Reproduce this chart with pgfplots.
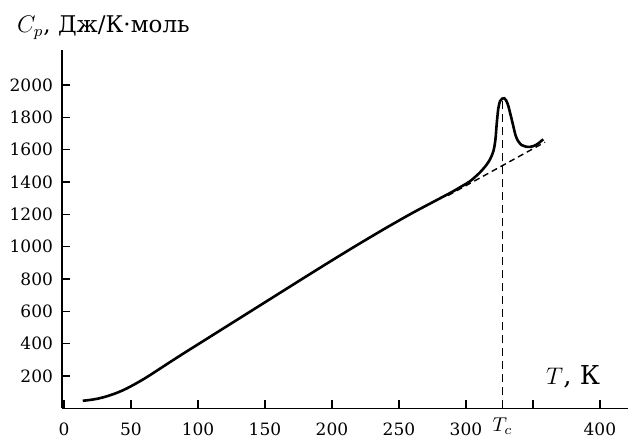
\documentclass[border=0pt]{standalone}
\usepackage{fontspec}
\setmainfont{DejaVu Serif}
\usepackage{pgfplots}
\pgfplotsset{compat=1.18}

\begin{document}
\begin{tikzpicture}
\begin{axis}[
    name=ax,
    scale only axis,
    width=283pt, height=179.2pt,
    xmin=-1.5, xmax=421, ymin=0, ymax=2216,
    axis lines=left,
    axis line style={-, line width=0.7pt},
    tick align=inside,
    xtick pos=left, ytick pos=left,
    major tick length=4pt,
    tick style={black, line width=0.7pt},
    xtick={0,50,...,400},
    xticklabels={0,50,100,150,200,250,300,,400},
    extra x ticks={327.4},
    extra x tick labels={\fontsize{10}{11}\selectfont$T_c$},
    extra x tick style={major tick length=0pt, xticklabel style={yshift=2.5pt}},
    ytick={200,400,...,2000},
    tick label style={font=\fontsize{8.5}{10}\selectfont},
    xticklabel style={yshift=-3.5pt},
    yticklabel style={xshift=-1pt},
    /pgf/number format/assume math mode=true,
    /pgf/number format/1000 sep={},
    clip=false,
]
% C_p(T)
\addplot[black, line width=1.3pt, smooth] coordinates {
    (14,47) (20,53) (25,60) (30,70) (35,83) (40,98) (45,116) (50,137)
    (55,160) (60,184) (65,210) (70,237) (75,264) (80,291) (90,344)
    (100,396) (110,448) (120,500) (140,604) (160,708) (180,812)
    (200,915) (220,1016) (240,1114) (260,1208) (280,1296) (290,1340)
    (297,1374) (303,1404) (310,1455) (315,1502) (318,1540) (320.5,1590)
    (322,1660) (323,1760) (324.2,1856) (325.5,1900) (327,1915) (328.6,1918)
    (330,1905) (331.6,1872) (333.5,1810) (335.3,1748) (337,1690)
    (338.8,1655) (341.6,1628) (344.5,1619) (347.8,1617) (351,1624)
    (354,1638) (357.7,1664)
};
% lattice background, extrapolated
\addplot[black, line width=0.7pt, dash pattern=on 3pt off 2pt] coordinates {
    (286.6,1316) (359,1646)
};
% transition temperature
\addplot[black, line width=0.8pt, dash pattern=on 4pt off 2.5pt] coordinates {
    (327.4,0) (327.4,1917)
};
\node[anchor=base west, font=\fontsize{11.5}{13}\selectfont]
    at ([xshift=-26pt, yshift=8.5pt]rel axis cs:0,1) {$C_p$, Дж/К·моль};
\node[font=\fontsize{13}{15}\selectfont] at (axis cs:380,198) {$T$, К};
\end{axis}
\pgfresetboundingbox
\path ([xshift=-31pt, yshift=-14.85pt]ax.south west) rectangle ([yshift=25pt]ax.north east);
\end{tikzpicture}
\end{document}
